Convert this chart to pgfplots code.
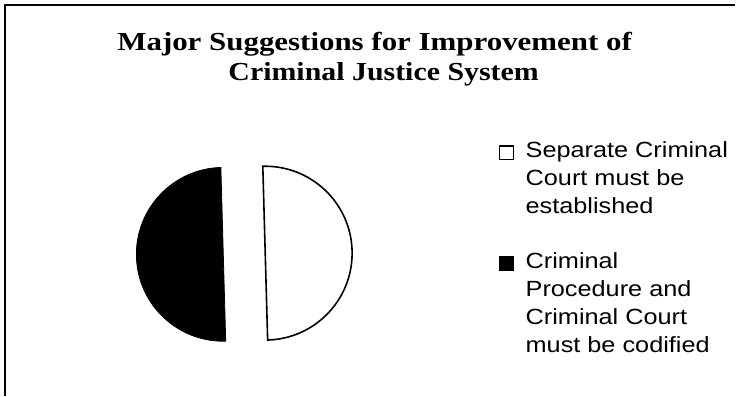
\documentclass[border=0pt]{standalone}
\usepackage{fontspec}
\setmainfont{Liberation Serif}
\newfontfamily\legfont{Liberation Sans}
\usepackage{graphicx}
\usepackage{pgfplots}
\usepackage{pgfplotstable}
\pgfplotsset{compat=1.18}

\pgfplotstableread[col sep=comma]{
label,value
Separate Criminal Court must be established,50
Criminal Procedure and Criminal Court must be codified,50
}\piedata

\begin{document}
\begin{tikzpicture}
\pgfplotstablegetelem{0}{value}\of\piedata \edef\vA{\pgfplotsretval}
\pgfplotstablegetelem{1}{value}\of\piedata \edef\vB{\pgfplotsretval}
\pgfmathsetmacro{\splitang}{91.6}
\pgfmathsetmacro{\fracA}{\vA/(\vA+\vB)}
\pgfmathsetmacro{\fracB}{\vB/(\vA+\vB)}
\pgfmathsetmacro{\aStart}{\splitang-360*\fracA}
\pgfmathsetmacro{\aMidA}{(\aStart+\splitang)/2}
\pgfmathsetmacro{\bEnd}{\splitang+360*\fracB}
\pgfmathsetmacro{\aMidB}{(\splitang+\bEnd)/2}
\begin{axis}[
  width=736bp, height=396bp, scale only axis,
  xmin=0, xmax=736, ymin=0, ymax=396,
  hide axis, clip=false,
]
% canvas extent
\path (axis cs:0,0) rectangle (axis cs:736,396);
% frame (left and top)
\draw[line width=1.5bp] (axis cs:5,0) -- (axis cs:5,391) -- (axis cs:736,391);
% title
\node[anchor=base, font=\bfseries\fontsize{26bp}{30bp}\selectfont] at (axis cs:375,345)
  {\scalebox{1.19}[1]{Major Suggestions for Improvement of}};
\node[anchor=base, font=\bfseries\fontsize{26bp}{30bp}\selectfont] at (axis cs:384,315)
  {\scalebox{1.15}[1]{Criminal Justice System}};
% pie slices (exploded)
\filldraw[fill=white, draw=black, line width=1.6bp]
  (axis cs:244.5,142) ++(\aMidA:21bp) -- ++(\aStart:87bp)
  arc[start angle=\aStart, end angle=\splitang, radius=87bp] -- cycle;
\filldraw[fill=black, draw=black, line width=0.8bp]
  (axis cs:244.5,142) ++(\aMidB:21bp) -- ++(\splitang:87bp)
  arc[start angle=\splitang, end angle=\bEnd, radius=87bp] -- cycle;
% legend
\draw[fill=white, line width=1.3bp] (axis cs:500.1,236.1) rectangle (axis cs:513.9,249.9);
\fill[black] (axis cs:499.5,124.5) rectangle (axis cs:514.5,139.5);
\begin{scope}[every node/.style={anchor=base west, inner sep=0pt, font=\legfont\fontsize{22bp}{26bp}\selectfont}]
\node at (axis cs:526,238) {\scalebox{1.15}[1]{Separate Criminal}};
\node at (axis cs:526,210) {\scalebox{1.15}[1]{Court must be}};
\node at (axis cs:526,182) {\scalebox{1.15}[1]{established}};
\node at (axis cs:526,127) {\scalebox{1.15}[1]{Criminal}};
\node at (axis cs:526,99) {\scalebox{1.15}[1]{Procedure and}};
\node at (axis cs:526,71) {\scalebox{1.15}[1]{Criminal Court}};
\node at (axis cs:526,43) {\scalebox{1.15}[1]{must be codified}};
\end{scope}
\end{axis}
\end{tikzpicture}
\end{document}
